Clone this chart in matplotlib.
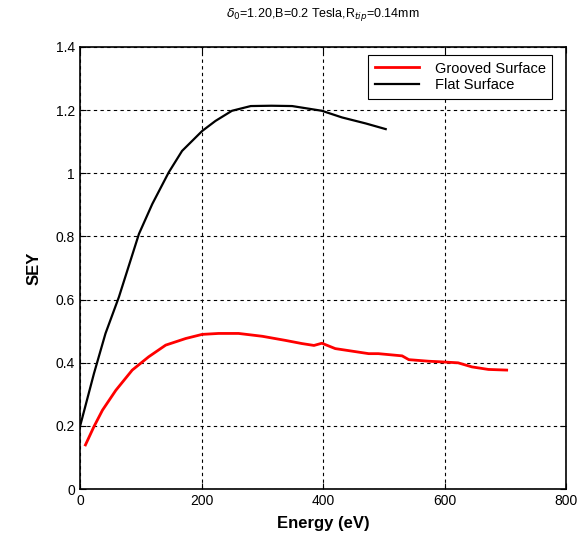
import numpy as np
import matplotlib.pyplot as plt

plt.rcParams['font.family'] = ['Liberation Sans', 'DejaVu Sans']

# Flat surface (black)
flat_e = [0, 23, 42, 64, 97, 119, 146, 168, 201, 223, 250, 281, 315, 349, 398, 431, 470, 503]
flat_sey = [0.198, 0.366, 0.493, 0.608, 0.808, 0.903, 1.003, 1.071, 1.134, 1.166, 1.198,
            1.213, 1.214, 1.213, 1.198, 1.177, 1.158, 1.140]

# Grooved surface (red)
groove_e = [9, 23, 37, 59, 86, 113, 141, 174, 201, 228, 261, 300, 338, 365, 385, 398, 420,
            475, 491, 530, 541, 574, 595, 622, 645, 672, 702]
groove_sey = [0.140, 0.198, 0.250, 0.313, 0.377, 0.419, 0.456, 0.477, 0.490, 0.493, 0.493,
              0.484, 0.471, 0.461, 0.455, 0.462, 0.445, 0.429, 0.429, 0.422, 0.410, 0.405,
              0.403, 0.400, 0.387, 0.379, 0.377]

fig = plt.figure(figsize=(5.88, 5.34), dpi=100)
ax = fig.add_axes([0.136, 0.084, 0.827, 0.828])

ax.plot(groove_e, groove_sey, color='red', lw=2.0, label='Grooved Surface')
ax.plot(flat_e, flat_sey, color='black', lw=1.6, label='Flat Surface')

ax.set_xlim(0, 800)
ax.set_ylim(0, 1.4)
ax.set_xticks([0, 200, 400, 600, 800])
ax.set_yticks([0, 0.2, 0.4, 0.6, 0.8, 1.0, 1.2, 1.4])
ax.set_yticklabels(['0', '0.2', '0.4', '0.6', '0.8', '1', '1.2', '1.4'])
ax.tick_params(direction='in', top=True, right=True, labelsize=10, length=4)
ax.grid(True, color='black', linestyle=(0, (3, 3)), linewidth=0.8)
for s in ax.spines.values():
    s.set_linewidth(1.2)

ax.set_xlabel('Energy (eV)', fontsize=12, fontweight='bold', labelpad=6)
ax.set_ylabel('SEY', fontsize=12, fontweight='bold', labelpad=10)
ax.set_title(r'$\delta_0$=1.20,B=0.2 Tesla,R$_{tip}$=0.14mm', fontsize=9, pad=22)

leg = ax.legend(loc='upper right', bbox_to_anchor=(0.971, 0.982), fontsize=10.5,
                fancybox=False, framealpha=1, edgecolor='black', handlelength=3.0,
                handletextpad=1.1, borderaxespad=0, borderpad=0.45, labelspacing=0.2)
leg.get_frame().set_linewidth(0.8)

fig.savefig('out.png', dpi=100)
